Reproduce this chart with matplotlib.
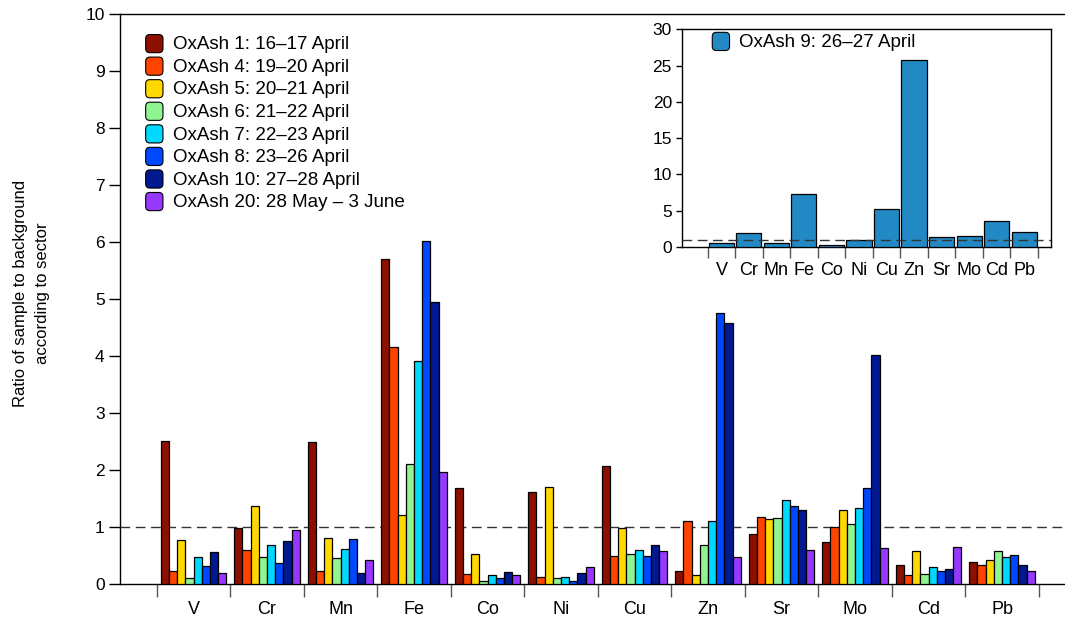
import numpy as np
import matplotlib
matplotlib.use('Agg')
import matplotlib.pyplot as plt
from matplotlib.patches import FancyBboxPatch, Patch
from matplotlib.legend_handler import HandlerPatch

plt.rcParams['font.family'] = ['Liberation Sans', 'DejaVu Sans']

# elements and sampling periods
elements = ['V', 'Cr', 'Mn', 'Fe', 'Co', 'Ni', 'Cu', 'Zn', 'Sr', 'Mo', 'Cd', 'Pb']
samples = ['OxAsh 1: 16\u201317 April', 'OxAsh 4: 19\u201320 April',
           'OxAsh 5: 20\u201321 April', 'OxAsh 6: 21\u201322 April',
           'OxAsh 7: 22\u201323 April', 'OxAsh 8: 23\u201326 April',
           'OxAsh 10: 27\u201328 April', 'OxAsh 20: 28 May \u2013 3 June']
colors = ['#8c1000', '#ff4400', '#ffd800', '#90f590', '#00d8ff',
          '#0048ff', '#001890', '#9638ff']

# ratio per sample (rows) and element (columns)
oxash1 = [2.51, 0.99, 2.49, 5.70, 1.69, 1.61, 2.07, 0.22, 0.88, 0.73, 0.33, 0.39]
oxash4 = [0.23, 0.60, 0.23, 4.16, 0.17, 0.13, 0.50, 1.10, 1.17, 1.00, 0.16, 0.33]
oxash5 = [0.77, 1.37, 0.80, 1.21, 0.52, 1.71, 0.98, 0.15, 1.14, 1.30, 0.58, 0.42]
oxash6 = [0.11, 0.48, 0.45, 2.10, 0.05, 0.11, 0.53, 0.68, 1.15, 1.05, 0.18, 0.58]
oxash7 = [0.48, 0.69, 0.61, 3.91, 0.15, 0.13, 0.59, 1.10, 1.48, 1.33, 0.30, 0.48]
oxash8 = [0.31, 0.36, 0.79, 6.02, 0.11, 0.05, 0.49, 4.75, 1.36, 1.68, 0.23, 0.51]
oxash10 = [0.56, 0.75, 0.20, 4.94, 0.21, 0.19, 0.69, 4.58, 1.29, 4.01, 0.27, 0.33]
oxash20 = [0.19, 0.95, 0.42, 1.96, 0.16, 0.29, 0.58, 0.48, 0.59, 0.64, 0.65, 0.23]
series = [oxash1, oxash4, oxash5, oxash6, oxash7, oxash8, oxash10, oxash20]

inset_label = 'OxAsh 9: 26\u201327 April'
oxash9 = [0.55, 1.98, 0.51, 7.33, 0.23, 0.92, 5.26, 25.77, 1.34, 1.52, 3.55, 2.03]
inset_color = '#2389c4'


def round_box(legend, orig_handle, xdescent, ydescent, width, height, fontsize):
    return FancyBboxPatch((-xdescent + 1, -ydescent - 1), width - 2, height + 1,
                          boxstyle='round,pad=0,rounding_size=3')


fig = plt.figure(figsize=(10.65, 6.17), dpi=100)
ax = fig.add_axes([120 / 1065, 33 / 617, 945 / 1065, 570 / 617])

x = np.arange(len(elements))
bw = 0.112
for j, vals in enumerate(series):
    ax.bar(x + (j - 3.5) * bw, vals, bw, color=colors[j], edgecolor='black',
           linewidth=0.9, label=samples[j], zorder=3)

ax.axhline(1, color='#333333', lw=1, dashes=(7, 4), zorder=2)
ax.set_xlim(-1.0, 11.857)
ax.set_ylim(0, 10)
ax.set_yticks(range(11))
ax.tick_params(axis='y', labelsize=12.5, length=8, width=1, pad=3)
ax.set_xticks(np.arange(len(elements) + 1) - 0.5)
ax.set_xticklabels([])
ax.set_xticks(x, minor=True)
ax.set_xticklabels(elements, minor=True, fontsize=13)
ax.tick_params(axis='x', which='major', length=9, width=1, color='#555555')
ax.tick_params(axis='x', which='minor', length=0, pad=12)
ax.spines['right'].set_visible(False)
for s in ['left', 'top', 'bottom']:
    ax.spines[s].set_linewidth(1)
ax.set_ylabel('Ratio of sample to background\naccording to sector', fontsize=12,
              linespacing=1.6)
ax.yaxis.set_label_coords(-0.074, 0.51)

handles = [Patch(facecolor=c, edgecolor='black', linewidth=0.8) for c in colors]
ax.legend(handles, samples, loc='upper left', bbox_to_anchor=(0.0257, 0.964),
          frameon=False, fontsize=13.5, borderpad=0, borderaxespad=0,
          handlelength=1.07, handleheight=1.0, handletextpad=0.45,
          labelspacing=0.2,
          handler_map={Patch: HandlerPatch(patch_func=round_box)})

# inset
axi = fig.add_axes([681.7 / 1065, (617 - 247) / 617, 369.3 / 1065, 217.7 / 617])
axi.bar(x, oxash9, 0.91, color=inset_color, edgecolor='black', linewidth=0.9,
        zorder=3)
axi.axhline(1, color='#333333', lw=1, dashes=(7, 4), zorder=4)
axi.set_xlim(-1.445, 11.98)
axi.set_ylim(0, 30)
axi.set_yticks(range(0, 31, 5))
axi.tick_params(axis='y', labelsize=12.5, length=4, width=1, pad=3)
axi.set_xticks(np.arange(len(elements) + 1) - 0.5)
axi.set_xticklabels([])
axi.set_xticks(x, minor=True)
axi.set_xticklabels(elements, minor=True, fontsize=13)
axi.tick_params(axis='x', which='major', length=8, width=1, color='#555555')
axi.tick_params(axis='x', which='minor', length=0, pad=11)
for s in axi.spines.values():
    s.set_linewidth(1)
axi.legend([Patch(facecolor=inset_color, edgecolor='black', linewidth=0.8)],
           [inset_label], loc='upper left', bbox_to_anchor=(0.079, 0.986),
           frameon=False, fontsize=13.5, borderpad=0, borderaxespad=0,
           handlelength=1.07, handleheight=1.0, handletextpad=0.45,
           handler_map={Patch: HandlerPatch(patch_func=round_box)})

fig.savefig('out.png', dpi=100)
